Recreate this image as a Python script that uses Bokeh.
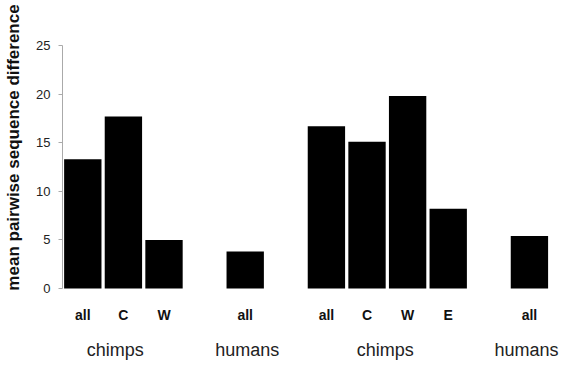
from bokeh.plotting import figure
from bokeh.models import ColumnDataSource, Range1d, LinearAxis, FixedTicker
from bokeh.embed import file_html
from bokeh.resources import INLINE

# ---- data ----
slot_positions = [0.5, 1.5, 2.5, 4.5, 6.5, 7.5, 8.5, 9.5, 11.5]
bar_labels = ["all", "C", "W", "all", "all", "C", "W", "E", "all"]
values = [13.3, 17.7, 5.0, 3.8, 16.7, 15.1, 19.8, 8.2, 5.4]
group_labels = ["chimps", "humans", "chimps", "humans"]
group_positions = [1.3, 4.55, 7.95, 11.43]
y_ticks = [0, 5, 10, 15, 20, 25]

FONT = "Liberation Sans"

src = ColumnDataSource(dict(x=slot_positions, top=values, label=bar_labels))

p = figure(width=561, height=374, output_backend="svg", toolbar_location=None,
           x_range=Range1d(0, 12.29), y_range=Range1d(-0.62, 29.63),
           x_axis_location=None, min_border_left=62, min_border_right=0,
           min_border_top=0, min_border_bottom=80)
p.outline_line_color = None
p.xgrid.visible = False
p.ygrid.visible = False
p.background_fill_color = "white"
p.border_fill_color = "white"

p.vbar(x="x", top="top", bottom=0, width=0.92, source=src,
       fill_color="black", line_color=None)

# y axis
ya = p.yaxis[0]
ya.ticker = FixedTicker(ticks=y_ticks)
ya.bounds = (0, 25)
ya.axis_line_color = "#aaaaaa"
ya.major_tick_line_color = "#aaaaaa"
ya.major_tick_out = 4
ya.major_tick_in = 0
ya.minor_tick_line_color = None
ya.major_label_text_font = FONT
ya.major_label_text_font_size = "13px"
ya.major_label_text_color = "#222222"
ya.major_label_standoff = 8
ya.axis_label = "mean pairwise sequence difference"
ya.axis_label_text_font = FONT
ya.axis_label_text_font_size = "17px"
ya.axis_label_text_font_style = "bold"
ya.axis_label_text_color = "#111111"
ya.axis_label_standoff = 10

# bar label axis
overrides = {float(x): l for x, l in zip(slot_positions, bar_labels)}
xa = LinearAxis(ticker=FixedTicker(ticks=slot_positions), major_label_overrides=overrides)
xa.axis_line_color = None
xa.major_tick_line_color = None
xa.minor_tick_line_color = None
xa.major_tick_out = 0
xa.major_tick_in = 0
xa.major_label_text_font = FONT
xa.major_label_text_font_size = "14px"
xa.major_label_text_font_style = "bold"
xa.major_label_text_color = "#111111"
xa.major_label_standoff = 12
p.add_layout(xa, "below")

# group label axis
g_over = {float(x): l for x, l in zip(group_positions, group_labels)}
ga = LinearAxis(ticker=FixedTicker(ticks=group_positions), major_label_overrides=g_over)
ga.axis_line_color = None
ga.major_tick_line_color = None
ga.minor_tick_line_color = None
ga.major_tick_out = 0
ga.major_tick_in = 0
ga.major_label_text_font = FONT
ga.major_label_text_font_size = "18px"
ga.major_label_text_color = "#222222"
ga.major_label_standoff = 14
p.add_layout(ga, "below")

open("out.html", "w").write(file_html(p, INLINE))
